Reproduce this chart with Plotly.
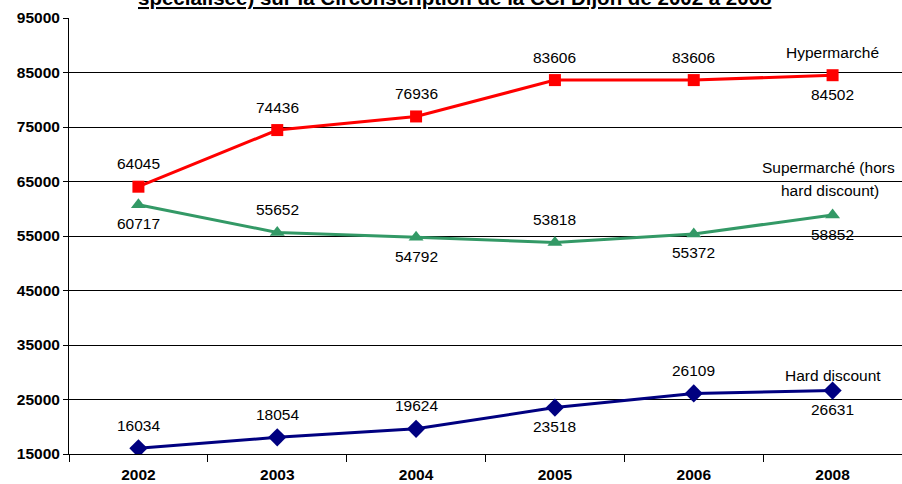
import plotly.graph_objects as go

years = ["2002", "2003", "2004", "2005", "2006", "2008"]
hyper = [64045, 74436, 76936, 83606, 83606, 84502]
super_ = [60717, 55652, 54792, 53818, 55372, 58852]
hard = [16034, 18054, 19624, 23518, 26109, 26631]
hyper_pos = ["top", "top", "top", "top", "top", "bottom"]
super_pos = ["bottom", "top", "bottom", "top", "bottom", "bottom"]
hard_pos = ["top", "top", "top", "bottom", "top", "bottom"]
title = "spécialisée) sur la Circonscription de la CCI Dijon de 2002 à 2008"

FONT = "Liberation Sans, Arial, sans-serif"
fig = go.Figure()
series = [
    ("Hypermarché", hyper, hyper_pos, "#FF0000", "square", 12),
    ("Supermarché (hors hard discount)", super_, super_pos, "#339966", "triangle-up", 13),
    ("Hard discount", hard, hard_pos, "#000080", "diamond", 14),
]
for name, vals, pos, col, sym, ms in series:
    fig.add_trace(go.Scatter(x=years, y=vals, mode="lines+markers", name=name,
                             line=dict(color=col, width=3),
                             marker=dict(symbol=sym, size=ms, color=col)))
    for i, (v, p) in enumerate(zip(vals, pos)):
        fig.add_annotation(x=i, y=v, text=str(v), showarrow=False,
                           yshift=23 if p == "top" else -19,
                           font=dict(family=FONT, size=15.5, color="black"))

fig.add_annotation(x=5, y=hyper[-1], text="Hypermarché", showarrow=False,
                   yshift=23, font=dict(family=FONT, size=15.5, color="black"))
fig.add_annotation(x=5, y=super_[-1], text="Supermarché (hors",
                   showarrow=False, yshift=48, xshift=-4,
                   font=dict(family=FONT, size=15.5, color="black"))
fig.add_annotation(x=5, y=super_[-1], text="hard discount)",
                   showarrow=False, yshift=25, xshift=-3,
                   font=dict(family=FONT, size=15.5, color="black"))
fig.add_annotation(x=5, y=hard[-1], text="Hard discount", showarrow=False,
                   yshift=15, font=dict(family=FONT, size=15.5, color="black"))

fig.add_annotation(xref="paper", yref="paper", x=0.463, y=1.016, text="<b><u>" + title + "</u></b>",
                   showarrow=False, xanchor="center", yanchor="bottom",
                   font=dict(family=FONT, size=20.5, color="black"))

fig.update_layout(
    width=902, height=484, margin=dict(l=69, r=0, t=18, b=30),
    paper_bgcolor="white", plot_bgcolor="white", showlegend=False,
    font=dict(family=FONT, color="black"),
)
fig.update_xaxes(type="category", range=[-0.5, 5.5], tickson="boundaries",
                 ticks="outside", ticklen=7, tickcolor="black", showline=True,
                 linecolor="black", linewidth=1, showgrid=False, automargin=False,
                 ticklabelstandoff=6,
                 tickfont=dict(family=FONT, size=15.5, color="black", weight="bold"))
fig.update_yaxes(range=[15000, 95000], dtick=10000, tick0=15000, showgrid=True,
                 gridcolor="black", gridwidth=1, showline=True, linecolor="black",
                 linewidth=1, ticks="outside", ticklen=5, tickcolor="black",
                 zeroline=False, tickformat="d", automargin=False,
                 tickfont=dict(family=FONT, size=15.5, color="black", weight="bold"))
fig.write_html("out.html", config={"displayModeBar": False},
               post_script="document.body.style.margin='0';document.body.style.overflow='hidden';")
